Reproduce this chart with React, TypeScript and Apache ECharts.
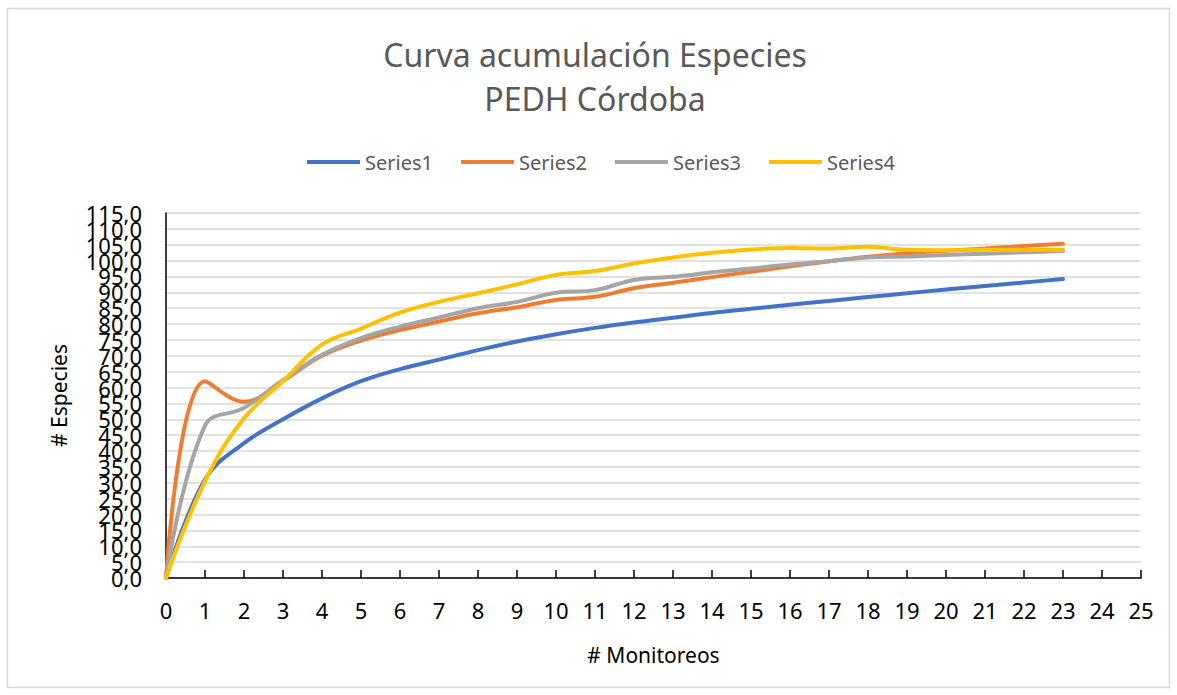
import { useEffect, useRef } from "react";
import * as echarts from "echarts";

// Monitoring rounds (x) and cumulative species counts for each series
const monitoreos = [0, 1, 2, 3, 4, 5, 6, 7, 8, 9, 10, 11, 12, 13, 14, 15, 16, 17, 18, 19, 20, 21, 22, 23];
const series1 = [0, 31, 42.5, 50, 56.6, 62, 65.8, 68.8, 71.8, 74.5, 76.8, 78.8, 80.5, 82, 83.5, 84.8, 86.1, 87.3, 88.5, 89.7, 90.9, 92, 93.1, 94.2];
const series2 = [0, 62, 55.5, 62.2, 70, 74.8, 78.1, 80.8, 83.4, 85.3, 87.6, 88.6, 91.3, 93, 94.8, 96.5, 98.2, 99.8, 101.2, 102.3, 103.1, 103.8, 104.6, 105.3];
const series3 = [0, 48, 53.6, 62.3, 70.3, 75.6, 79.2, 82.1, 85, 87, 89.9, 90.7, 93.9, 94.9, 96.3, 97.5, 98.8, 99.8, 101, 101.3, 101.8, 102.2, 102.6, 103];
const series4 = [0, 30.5, 50.3, 62, 73.5, 78.6, 83.6, 87, 89.7, 92.5, 95.5, 96.7, 99.1, 101, 102.5, 103.5, 104, 103.8, 104.4, 103.4, 103.3, 103.4, 103.4, 103.4];

// Y tick values (every 5 species); all of them carry a label
const yTicks = [0, 5, 10, 15, 20, 25, 30, 35, 40, 45, 50, 55, 60, 65, 70, 75, 80, 85, 90, 95, 100, 105, 110, 115];

const seriesNames = ["Series1", "Series2", "Series3", "Series4"];
const seriesColors = ["#4472C4", "#ED7D31", "#A5A5A5", "#FFC000"];
const titleLines = ["Curva acumulación Especies", "PEDH Córdoba"];
const xAxisName = "# Monitoreos";
const yAxisName = "# Especies";

const FONT = '"Noto Sans", "Open Sans", sans-serif';
const formatY = (v: number) => v.toFixed(1).replace(".", ",");

export default function App() {
  const ref = useRef<HTMLDivElement>(null);

  useEffect(() => {
    if (!ref.current) return;
    const chart = echarts.init(ref.current, null, { renderer: "svg" });
    const values = [series1, series2, series3, series4];

    chart.setOption({
      animation: false,
      backgroundColor: "#ffffff",
      textStyle: { fontFamily: FONT },
      legend: {
        left: 302,
        top: 147,
        icon: "rect",
        itemWidth: 53,
        itemHeight: 4,
        itemGap: 28,
        data: seriesNames,
        textStyle: { color: "#595959", fontSize: 20, fontFamily: FONT },
      },
      grid: { left: 166, right: 36, top: 213, bottom: 117, containLabel: false },
      xAxis: {
        type: "value",
        min: 0,
        max: 25,
        interval: 1,
        name: xAxisName,
        nameLocation: "middle",
        nameGap: 66,
        nameTextStyle: { color: "#000000", fontSize: 21, fontFamily: FONT },
        axisLine: { show: true, lineStyle: { color: "#000000", width: 1.5 } },
        axisTick: { show: true, inside: true, length: 8, lineStyle: { color: "#000000", width: 1.5 } },
        axisLabel: {
          color: "#000000",
          fontSize: 22,
          margin: 21,
          fontFamily: FONT,
          showMinLabel: true,
          showMaxLabel: true,
        },
        splitLine: { show: false },
      },
      yAxis: {
        type: "value",
        min: 0,
        max: 115,
        interval: 5,
        name: yAxisName,
        nameLocation: "middle",
        nameGap: 97,
        nameTextStyle: { color: "#000000", fontSize: 21, fontFamily: FONT },
        axisLine: { show: true, lineStyle: { color: "#000000", width: 1.5 } },
        axisTick: { show: false },
        // Labels are drawn below as graphic texts so that none is dropped
        axisLabel: { show: false },
        splitLine: { show: true, lineStyle: { color: "#D9D9D9", width: 1.5 } },
      },
      series: values.map((vals, i) => ({
        name: seriesNames[i],
        type: "line",
        smooth: 0.4,
        symbol: "none",
        color: seriesColors[i],
        lineStyle: { width: 4, color: seriesColors[i], cap: "round" },
        data: monitoreos.map((x, j) => [x, vals[j]]),
      })),
    });

    // Y axis tick labels, placed through the axis scale; they sit 24px left of the axis line
    const axisX = chart.convertToPixel({ xAxisIndex: 0 }, 0) as number;
    const yLabels = yTicks.map((v) => ({
      type: "text",
      x: axisX - 24,
      y: chart.convertToPixel({ yAxisIndex: 0 }, v) as number,
      silent: true,
      style: {
        text: formatY(v),
        fontFamily: FONT,
        fontSize: 22,
        fill: "#000000",
        textAlign: "right",
        textVerticalAlign: "middle",
      },
    }));

    chart.setOption({
      graphic: [
        {
          type: "rect",
          shape: { x: 7.5, y: 8.5, width: 1162, height: 679 },
          style: { fill: "none", stroke: "#D9D9D9", lineWidth: 1.5 },
          silent: true,
          z: -1,
        },
        ...titleLines.map((line, i) => ({
          type: "text",
          x: 595,
          y: 54 + i * 44,
          silent: true,
          style: {
            text: line,
            fontFamily: FONT,
            fontSize: 32,
            fill: "#595959",
            textAlign: "center",
            textVerticalAlign: "middle",
          },
        })),
        ...yLabels,
      ],
    });

    return () => chart.dispose();
  }, []);

  return (
    <div
      ref={ref}
      style={{ position: "fixed", left: 0, top: 0, width: 1177, height: 695, background: "#fff" }}
    />
  );
}
